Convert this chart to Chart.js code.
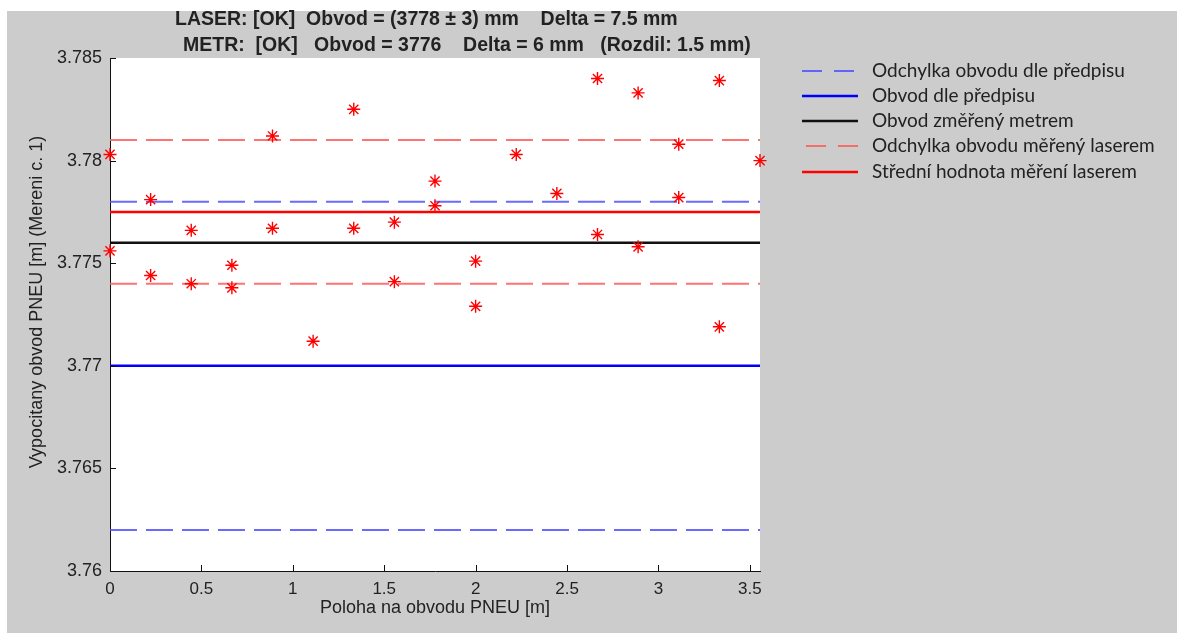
<!DOCTYPE html>
<html><head><meta charset="utf-8">
<script src="https://cdn.jsdelivr.net/npm/chart.js@4/dist/chart.umd.min.js"></script>
<style>html,body{margin:0;padding:0;background:#fff;overflow:hidden}</style>
</head><body>
<canvas id="c" width="1177" height="633" style="display:block;width:1177px;height:633px"></canvas>
<script>
// ---- data ----
const positions = [0, 0.2222, 0.4444, 0.6667, 0.8889, 1.1111, 1.3333, 1.5556, 1.7778, 2.0, 2.2222, 2.4444, 2.6667, 2.8889, 3.1111, 3.3333, 3.5556];
const measureA = [3.7803, 3.7781, 3.7766, 3.7749, 3.7812, 3.7712, 3.7825, 3.7770, 3.7790, 3.7751, 3.7803, 3.7784, 3.7840, 3.7833, 3.7808, 3.7839, 3.7800];
const measureB = [3.7756, 3.7744, 3.7740, 3.7738, 3.7767, null, 3.7767, 3.7741, 3.7778, 3.7729, null, null, 3.7764, 3.7758, 3.7782, 3.7719, null];
const xRange = [0, 3.5556];
const yRange = [3.76, 3.785];
const xTicks = [0, 0.5, 1, 1.5, 2, 2.5, 3, 3.5];
const xTickLabels = ['0', '0.5', '1', '1.5', '2', '2.5', '3', '3.5'];
const yTicks = [3.76, 3.765, 3.77, 3.775, 3.78, 3.785];
const yTickLabels = ['3.76', '3.765', '3.77', '3.775', '3.78', '3.785'];
const prescribedTolerance = [3.778, 3.762];
const prescribedNominal = 3.770;
const tapeMeasured = 3.776;
const laserTolerance = [3.781, 3.774];
const laserMean = 3.7775;
const legendLabels = ['Odchylka obvodu dle předpisu', 'Obvod dle předpisu', 'Obvod změřený metrem', 'Odchylka obvodu měřený laserem', 'Střední hodnota měření laserem'];
const titleLines = ['LASER: [OK]  Obvod = (3778 ± 3) mm    Delta = 7.5 mm', 'METR:  [OK]   Obvod = 3776    Delta = 6 mm   (Rozdil: 1.5 mm)'];
const xTitle = 'Poloha na obvodu PNEU [m]';
const yTitle = 'Vypocitany obvod PNEU [m] (Mereni c. 1)';

// ---- styles ----
const S = {
  tolBlue: {color: 'rgba(80,80,255,0.85)', width: 2, dash: [27, 9]},
  nomBlue: {color: '#0000ff', width: 2.5, dash: []},
  tape: {color: '#111111', width: 2.5, dash: []},
  tolRed: {color: 'rgba(255,90,90,0.85)', width: 2, dash: [27, 9]},
  meanRed: {color: '#ff0000', width: 2.5, dash: []}
};
const legendStyles = [S.tolBlue, S.nomBlue, S.tape, S.tolRed, S.meanRed];

function hline(y, st, label) {
  return {type: 'line', label: label, data: [{x: xRange[0], y: y}, {x: xRange[1], y: y}],
    borderColor: st.color, borderWidth: st.width, borderDash: st.dash, pointRadius: 0, fill: false, order: 5};
}
function pts(vals) {
  return positions.map((x, i) => vals[i] === null ? null : {x: x, y: vals[i]}).filter(p => p !== null);
}
const markerStyle = {type: 'scatter', pointStyle: 'star', pointRadius: 6.5, pointBorderColor: '#ff0000', pointBackgroundColor: '#ff0000', pointBorderWidth: 1.4, showLine: false, order: 0};

const datasets = [
  Object.assign({label: 'A', data: pts(measureA)}, markerStyle),
  Object.assign({label: 'B', data: pts(measureB)}, markerStyle),
  hline(prescribedTolerance[0], S.tolBlue, legendLabels[0]),
  hline(prescribedTolerance[1], S.tolBlue, legendLabels[0]),
  hline(prescribedNominal, S.nomBlue, legendLabels[1]),
  hline(tapeMeasured, S.tape, legendLabels[2]),
  hline(laserTolerance[0], S.tolRed, legendLabels[3]),
  hline(laserTolerance[1], S.tolRed, legendLabels[3]),
  hline(laserMean, S.meanRed, legendLabels[4])
];

const FONT = "'Liberation Sans', Arial, sans-serif";
const TXT = '#222222';

const decor = {
  id: 'decor',
  beforeDraw(chart) {
    const ctx = chart.ctx, a = chart.chartArea;
    ctx.save();
    ctx.fillStyle = '#ffffff';
    ctx.fillRect(0, 0, chart.width, chart.height);
    ctx.fillStyle = '#cccccc';
    ctx.fillRect(7, 11, chart.width - 7, chart.height - 11);
    ctx.fillStyle = '#ffffff';
    ctx.fillRect(a.left, a.top, a.right - a.left, a.bottom - a.top);
    ctx.restore();
  },
  afterDraw(chart) {
    const ctx = chart.ctx, a = chart.chartArea;
    const xs = chart.scales.x, ys = chart.scales.y;
    ctx.save();
    // inward ticks
    ctx.strokeStyle = '#111';
    ctx.lineWidth = 1;
    ctx.beginPath();
    xTicks.forEach(v => { const px = Math.round(xs.getPixelForValue(v)) + 0.5; ctx.moveTo(px, a.bottom); ctx.lineTo(px, a.bottom - 6); });
    yTicks.forEach(v => { const py = Math.round(ys.getPixelForValue(v)) + 0.5; ctx.moveTo(a.left, py); ctx.lineTo(a.left + 6, py); });
    ctx.stroke();
    // title
    ctx.fillStyle = TXT;
    ctx.font = "bold 19.5px " + FONT;
    ctx.textBaseline = 'middle';
    ctx.textAlign = 'left';
    ctx.fillText(titleLines[0], 175, 20);
    ctx.fillText(titleLines[1], 183, 46);
    // y axis title
    ctx.save();
    ctx.translate(37, 302);
    ctx.rotate(-Math.PI / 2);
    ctx.textAlign = 'center';
    ctx.font = "18px " + FONT;
    ctx.fillText(yTitle, 0, 0);
    ctx.restore();
    // legend
    const rows = [71, 96, 121, 146, 172];
    ctx.font = "19px Lato, 'Noto Sans', sans-serif";
    ctx.textAlign = 'left';
    legendLabels.forEach((lab, i) => {
      const st = legendStyles[i];
      ctx.strokeStyle = st.color;
      ctx.lineWidth = st.width;
      ctx.setLineDash(st.dash.length ? [20, 12] : []);
      ctx.lineDashOffset = st === S.tolRed ? 28 : 0;
      ctx.beginPath();
      ctx.moveTo(802, rows[i]);
      ctx.lineTo(858, rows[i]);
      ctx.stroke();
      ctx.setLineDash([]);
      ctx.fillStyle = TXT;
      ctx.fillText(lab, 872, rows[i]);
    });
    ctx.restore();
  }
};

new Chart(document.getElementById('c'), {
  type: 'scatter',
  data: {datasets: datasets},
  plugins: [decor],
  options: {
    responsive: false,
    animation: false,
    devicePixelRatio: 1,
    clip: false,
    layout: {padding: {left: 0, top: 58, right: 417, bottom: 0}},
    plugins: {legend: {display: false}, tooltip: {enabled: false}, title: {display: false}},
    scales: {
      x: {
        type: 'linear', min: xRange[0], max: xRange[1],
        afterBuildTicks: s => { s.ticks = xTicks.map(v => ({value: v})); },
        afterFit: s => { s.height = 62; },
        ticks: {callback: (v, i) => xTickLabels[i], font: {family: FONT, size: 17}, color: TXT, padding: 0, maxRotation: 0, autoSkip: false},
        grid: {display: false},
        border: {display: true, color: '#111', width: 1},
        title: {display: true, text: xTitle, font: {family: FONT, size: 18}, color: TXT, padding: 14}
      },
      y: {
        type: 'linear', min: yRange[0], max: yRange[1],
        afterBuildTicks: s => { s.ticks = yTicks.map(v => ({value: v})); },
        afterFit: s => { s.width = 110; },
        ticks: {callback: (v, i) => yTickLabels[i], font: {family: FONT, size: 18}, color: TXT, padding: 0, autoSkip: false},
        grid: {display: false},
        border: {display: true, color: '#111', width: 1},
        title: {display: false}
      }
    }
  }
});
</script>
</body></html>
